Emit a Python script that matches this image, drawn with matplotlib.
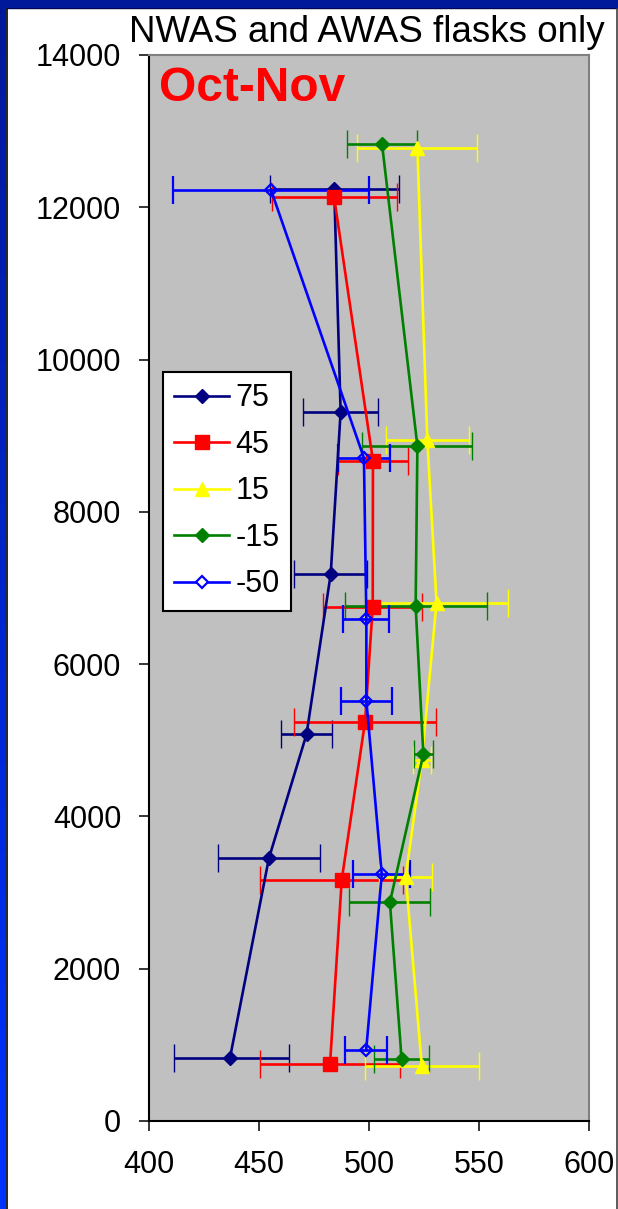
import numpy as np
import matplotlib
matplotlib.use('Agg')
import matplotlib.pyplot as plt
from matplotlib.patches import Rectangle
from matplotlib.lines import Line2D

plt.rcParams['font.family'] = ['Liberation Sans', 'DejaVu Sans']

# latitude bands (legend labels)
labels = ['75', '45', '15', '-15', '-50']

# mean mixing ratio (x) against altitude (y), with error bar half-widths
x_75 = [436.8, 454.5, 471.6, 482.6, 487.1, 484.2]
y_75 = [827, 3450, 5079, 7184, 9312, 12238]
lo_75 = [25.4, 23.3, 11.5, 16.5, 17.2, 29.4]
hi_75 = [27.0, 23.3, 11.5, 16.5, 17.2, 29.4]

x_45 = [482.3, 487.6, 498.2, 501.7, 501.8, 484.1]
y_45 = [752, 3165, 5245, 6756, 8672, 12140]
lo_45 = [32.0, 37.0, 32.4, 22.4, 16.0, 28.4]
hi_45 = [32.0, 28.0, 32.4, 22.4, 16.0, 28.4]

x_15 = [524.0, 516.7, 524.0, 530.7, 526.5, 522.0]
y_15 = [722, 3209, 4741, 6807, 8944, 12775]
err_15 = [26.0, 12.0, 4.0, 32.6, 19.0, 27.3]

x_m15 = [514.8, 509.5, 524.7, 521.2, 522.0, 505.9]
y_m15 = [820, 2872, 4816, 6764, 8865, 12836]
err_m15 = [12.5, 18.4, 4.4, 32.3, 25.0, 16.0]

x_m50 = [498.7, 505.8, 498.8, 498.8, 497.7, 455.5]
y_m50 = [930, 3240, 5520, 6590, 8708, 12224]
err_m50 = [9.5, 13.0, 11.7, 10.4, 11.8, 44.4]

series = [
    (x_75, y_75, [lo_75, hi_75], '#000080', 'D', 7.4, True),
    (x_45, y_45, [lo_45, hi_45], '#FF0000', 's', 9.4, True),
    (x_15, y_15, err_15, '#FFFF00', '^', 10.4, True),
    (x_m15, y_m15, err_m15, '#008000', 'D', 7.4, True),
    (x_m50, y_m50, err_m50, '#0000FF', 'D', 6.2, False),
]

fig = plt.figure(figsize=(6.18, 12.09), dpi=100)
fig.patch.set_facecolor('white')

ax = fig.add_axes([149 / 618, 88 / 1209, 440 / 618, 1066 / 1209])
ax.set_facecolor('#C0C0C0')

handles = []
for (xs, ys, err, col, mk, ms, filled), lab in zip(series, labels):
    fc = col if filled else 'none'
    mew = 1.6 if not filled else 1.0
    ax.errorbar(xs, ys, xerr=err, color=col, lw=1.9, marker=mk, ms=ms,
                mfc=fc, mec=col, mew=mew,
                ecolor=col, elinewidth=1.9, capsize=10, capthick=1.9)
    handles.append(Line2D([], [], color=col, lw=1.9, marker=mk, ms=ms,
                          mfc=fc if filled else 'white', mec=col,
                          mew=mew, label=lab))

ax.set_xlim(400, 600)
ax.set_ylim(0, 14000)
ax.set_xticks(np.arange(400, 601, 50))
ax.set_yticks(np.arange(0, 14001, 2000))
ax.tick_params(axis='both', direction='out', length=7, width=1.1,
               labelsize=22, colors='black')
ax.tick_params(axis='x', pad=14)
ax.tick_params(axis='y', pad=13)

for side in ['left', 'bottom']:
    ax.spines[side].set_color('black')
    ax.spines[side].set_linewidth(1.5)
for side in ['top', 'right']:
    ax.spines[side].set_color('#808080')
    ax.spines[side].set_linewidth(1.5)

leg = ax.legend(handles=handles, loc='upper left',
                bbox_to_anchor=(0.031, 0.703), borderaxespad=0,
                fontsize=22, frameon=True, fancybox=False, framealpha=1,
                edgecolor='black', handlelength=1.8, handletextpad=0.2,
                labelspacing=0.54, borderpad=0.38)
leg.get_frame().set_linewidth(1.5)

fig.text(367 / 618, 1 - 42 / 1209, 'NWAS and AWAS flasks only',
         ha='center', va='baseline', fontsize=26.5, color='black')
fig.text(159 / 618, 1 - 101 / 1209, 'Oct-Nov', ha='left', va='baseline',
         fontsize=34.5, fontweight='bold', color='#FF0000')

# window frame: dark top band, left band fading to bright blue
fig.patches.append(Rectangle((0, 1 - 7 / 1209), 1, 7 / 1209,
                             transform=fig.transFigure, color='#00189A',
                             zorder=5))
band = fig.add_axes([0, 0, 6 / 618, 1 - 7 / 1209])
grad = np.linspace(0, 1, 256).reshape(-1, 1)
top_c = np.array([0x00, 0x18, 0x9A]) / 255
bot_c = np.array([0x00, 0x33, 0xFF]) / 255
img = top_c[None, None, :] * (1 - grad[..., None]) + bot_c[None, None, :] * grad[..., None]
band.imshow(img, aspect='auto', interpolation='bilinear')
band.set_axis_off()
fig.add_artist(Line2D([6.5 / 618, 6.5 / 618], [0, 1 - 7 / 1209],
                      transform=fig.transFigure, color='black', lw=1.2))
fig.add_artist(Line2D([6.5 / 618, 1], [1 - 7.5 / 1209, 1 - 7.5 / 1209],
                      transform=fig.transFigure, color='#000040', lw=1.0))
fig.add_artist(Line2D([616.5 / 618, 616.5 / 618], [0, 1 - 7 / 1209],
                      transform=fig.transFigure, color='#404040', lw=1.2))

fig.savefig('out.png', dpi=100)
